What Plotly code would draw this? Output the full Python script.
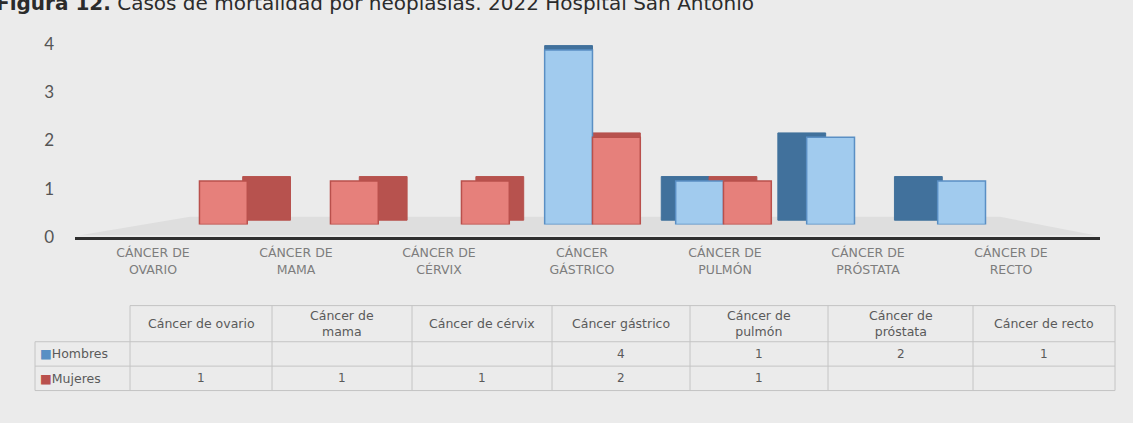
import plotly.graph_objects as go

# ---------------- data ----------------
categories = ["Cáncer de ovario", "Cáncer de mama", "Cáncer de cérvix", "Cáncer gástrico",
              "Cáncer de pulmón", "Cáncer de próstata", "Cáncer de recto"]
axis_labels = ["CÁNCER DE<br>OVARIO", "CÁNCER DE<br>MAMA", "CÁNCER DE<br>CÉRVIX", "CÁNCER<br>GÁSTRICO",
               "CÁNCER DE<br>PULMÓN", "CÁNCER DE<br>PRÓSTATA", "CÁNCER DE<br>RECTO"]
table_headers = ["Cáncer de ovario", "Cáncer de<br>mama", "Cáncer de cérvix", "Cáncer gástrico",
                 "Cáncer de<br>pulmón", "Cáncer de<br>próstata", "Cáncer de recto"]
series_names = ["Hombres", "Mujeres"]
hombres = [None, None, None, 4, 1, 2, 1]
mujeres = [1, 1, 1, 2, 1, None, None]
y_ticks = [0, 1, 2, 3, 4]
title_text = "<b>Figura 12.</b> Casos de mortalidad por neoplasias. 2022 Hospital San Antonio"

# ---------------- styling ----------------
W, H = 1133, 423
FONT = "DejaVu Sans"
NUM_FONT = "Lato"
BG = "#ebebeb"
TXT = "#5a5a5a"
BLUE, BLUE_SIDE, BLUE_EDGE = "#a1cbee", "#41719c", "#5a8fc4"
RED, RED_SIDE, RED_EDGE = "#e6807b", "#b7524e", "#b9504c"
BAR_W = 0.365
depth_shift = [(3 - i) * 0.11 for i in range(len(categories))]
depth_lift = 0.1

# table grid (pixels)
col_edges = [130, 272, 412, 552, 690, 828, 973, 1115]
row_edges = [313, 350, 375, 400]
label_left = 35
GRID = "#c4c4c4"


def fx(px):
    return px / W


def fy(py):
    return (H - py) / H


fig = go.Figure()

# anchor trace for the labelled axes (draws nothing)
fig.add_trace(go.Scatter(x=[0, len(categories) - 1], y=[0, max(y_ticks)], mode="none",
                         xaxis="x", yaxis="y", showlegend=False, hoverinfo="skip"))

# side faces (drawn first, behind)
fig.add_trace(go.Bar(x=categories, y=hombres, base=depth_lift, width=BAR_W,
                     offset=[-BAR_W + s for s in depth_shift],
                     marker=dict(color=BLUE_SIDE, line=dict(color=BLUE_SIDE, width=1)),
                     xaxis="x2", yaxis="y2", showlegend=False, hoverinfo="skip"))
fig.add_trace(go.Bar(x=categories, y=mujeres, base=depth_lift, width=BAR_W,
                     offset=[0 + s for s in depth_shift],
                     marker=dict(color=RED_SIDE, line=dict(color=RED_SIDE, width=1)),
                     xaxis="x2", yaxis="y2", showlegend=False, hoverinfo="skip"))
# front faces
fig.add_trace(go.Bar(x=categories, y=hombres, name=series_names[0], width=BAR_W, offset=-BAR_W,
                     marker=dict(color=BLUE, line=dict(color=BLUE_EDGE, width=1.5)),
                     xaxis="x2", yaxis="y2", showlegend=False))
fig.add_trace(go.Bar(x=categories, y=mujeres, name=series_names[1], width=BAR_W, offset=0,
                     marker=dict(color=RED, line=dict(color=RED_EDGE, width=1.5)),
                     xaxis="x2", yaxis="y2", showlegend=False))

# floor of the 3D plot
fl = [(80, 241), (1095, 241), (1000, 222), (190, 222)]
path = "M " + " L ".join(f"{fx(a)},{fy(b)}" for a, b in fl) + " Z"
fig.add_shape(type="path", path=path, xref="paper", yref="paper",
              fillcolor="#dedede", line=dict(width=0), layer="below")

# ---------------- data table (grid + text) ----------------
def hline(y, x0, x1):
    fig.add_shape(type="line", xref="paper", yref="paper", x0=fx(x0), x1=fx(x1), y0=fy(y), y1=fy(y),
                  line=dict(color=GRID, width=1))


def vline(x, y0, y1):
    fig.add_shape(type="line", xref="paper", yref="paper", x0=fx(x), x1=fx(x), y0=fy(y0), y1=fy(y1),
                  line=dict(color=GRID, width=1))


hline(row_edges[0], col_edges[0], col_edges[-1])
for r in row_edges[1:]:
    hline(r, label_left, col_edges[-1])
for c in col_edges:
    vline(c, row_edges[0], row_edges[-1])
vline(label_left, row_edges[1], row_edges[-1])

centers = [(a + b) / 2 for a, b in zip(col_edges[:-1], col_edges[1:])]
hdr_y = (row_edges[0] + row_edges[1]) / 2
for cx, t in zip(centers, table_headers):
    fig.add_annotation(text=t, x=fx(cx), y=fy(hdr_y), xref="paper", yref="paper",
                       showarrow=False, align="center", xanchor="center", yanchor="middle",
                       font=dict(family=FONT, size=12.5, color=TXT))

row_colors = [BLUE_EDGE, RED_EDGE]
for i, (name, vals) in enumerate(zip(series_names, [hombres, mujeres])):
    ry = (row_edges[i + 1] + row_edges[i + 2]) / 2
    fig.add_annotation(text=f"<span style='color:{row_colors[i]}'>■</span>{name}",
                       x=fx(label_left + 3), y=fy(ry), xref="paper", yref="paper",
                       showarrow=False, xanchor="left", yanchor="middle",
                       font=dict(family=FONT, size=12.5, color=TXT))
    for cx, v in zip(centers, vals):
        if v is None:
            continue
        fig.add_annotation(text=str(v), x=fx(cx), y=fy(ry), xref="paper", yref="paper",
                           showarrow=False, xanchor="center", yanchor="middle",
                           font=dict(family=FONT, size=12, color=TXT))

# title at the top edge of the photo (cut off, as in the source)
fig.add_annotation(text=title_text, xref="paper", yref="paper", x=fx(-6), y=fy(17),
                   xanchor="left", yanchor="bottom", showarrow=False,
                   font=dict(family=FONT, size=20, color="#2b2b2b"))

fig.update_layout(
    width=W, height=H,
    margin=dict(l=0, r=0, t=0, b=0),
    paper_bgcolor=BG, plot_bgcolor="rgba(0,0,0,0)",
    barmode="overlay",
    font=dict(family=FONT, color=TXT),
    showlegend=False,
    xaxis=dict(domain=[fx(75), fx(1100)], range=[-0.545, 6.622], anchor="y",
               tickmode="array", tickvals=list(range(len(axis_labels))), ticktext=axis_labels,
               showline=True, linecolor="#2f2f2f", linewidth=3, showgrid=False, zeroline=False,
               ticks="", ticklabelstandoff=2,
               tickfont=dict(family=FONT, size=12.5, color="#7d7d7d")),
    yaxis=dict(domain=[fy(243), fy(30)], range=[0, 4.3], anchor="x",
               tickmode="array", tickvals=y_ticks, showgrid=False, zeroline=False,
               showline=False, ticks="", ticklabelstandoff=20,
               tickfont=dict(family=NUM_FONT, size=17, color="#555555")),
    xaxis2=dict(domain=[fx(75), fx(1100)], range=[-0.95, 6.874], anchor="y2",
                type="category", visible=False),
    yaxis2=dict(domain=[fy(230), fy(30)], range=[0, 4.474], anchor="x2", visible=False),
)

fig.write_html("out.html", config={"displayModeBar": False},
               post_script="document.body.style.margin='0';document.body.style.background='#ebebeb';")
